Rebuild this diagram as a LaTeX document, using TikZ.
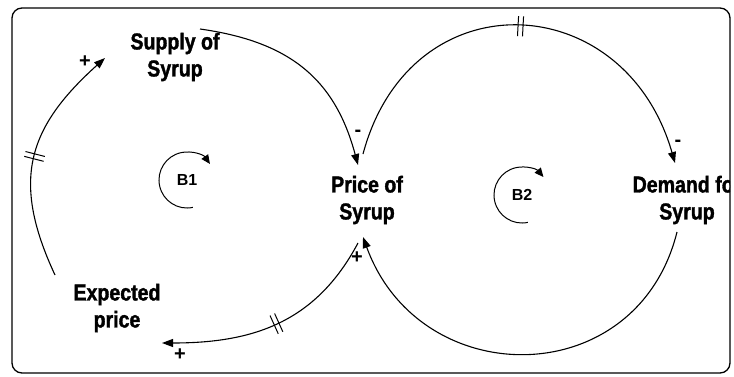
\documentclass[tikz,border=0pt]{standalone}
\usepackage{fontspec}
\newfontfamily\varfont[FakeStretch=0.85,BoldFeatures={FakeBold=1.5}]{Liberation Sans}
\newfontfamily\loopfont{Liberation Sans}
\usetikzlibrary{arrows.meta, decorations.markings}

\begin{document}
\begin{tikzpicture}[x=1pt,y=1pt,
  var/.style={align=center,font=\varfont\bfseries\fontsize{23}{27}\selectfont,inner sep=3pt},
  lp/.style={font=\loopfont\bfseries\fontsize{16}{18}\selectfont},
  sgn/.style={font=\loopfont\bfseries\fontsize{20}{20}\selectfont,inner sep=0pt},
  arr/.style={-{Triangle[length=11pt,width=8pt]},line width=1.1pt},
  larr/.style={-{Triangle[length=9pt,width=8pt]},line width=1pt},
  dly/.style={postaction={decorate,decoration={markings,mark=at position #1 with {\draw[-,line width=1pt] (-2.5,-10)--(-2.5,10) (2.5,-10)--(2.5,10);}}}},
  frame/.style={rounded corners=10pt,line width=1.3pt}
]
  \useasboundingbox (0,0) rectangle (734,376);
  \begin{scope}
    \clip[rounded corners=10pt] (12,3) rectangle (730,368);
    \node[var] (sup) at (175,319) {Supply of\\Syrup};
    \node[var] (price) at (367,176) {Price of\\Syrup};
    \node[var] (dem) at (687,176) {Demand for\\Syrup};
    \node[var] (exp) at (117,68) {Expected\\price};
    \node[lp] (b1) at (187,196) {B1};
    \node[lp] (b2) at (522,181) {B2};

    % links
    \draw[arr] ([shift={(25,28)}]sup.center) to[out=-8,in=105,looseness=1.1] ([shift={(-9,35)}]price.center);
    \draw[arr,dly=0.5] ([shift={(-4,46)}]price.center) to[out=75,in=106,looseness=1.5] ([shift={(-12,37)}]dem.center);
    \draw[arr] ([shift={(-10,-32)}]dem.center) to[out=-104,in=-70,looseness=1.35] ([shift={(-4,-37)}]price.center);
    \draw[arr,dly=0.5] ([shift={(-9,-43)}]price.center) to[out=242,in=0,looseness=1.05] ([shift={(45,-35)}]exp.center);
    \draw[arr,dly=0.5] ([shift={(-62,33)}]exp.center) to[out=115,in=222,looseness=1.2] ([shift={(-70,-1)}]sup.center);

    % loop markers
    \draw[larr] (b1.center) ++(282:28) arc[start angle=282,end angle=35,radius=28];
    \draw[larr] (b2.center) ++(282:28) arc[start angle=282,end angle=40,radius=28];

    % polarities
    \node[sgn] (s1) at (85,314) {+};
    \node[sgn] (s2) at (358,243) {-};
    \node[sgn] (s3) at (678,233) {-};
    \node[sgn] (s4) at (357,118) {+};
    \node[sgn] (s5) at (180,21) {+};
  \end{scope}
  \draw[frame] (12,3) rectangle (730,368);
\end{tikzpicture}
\end{document}
